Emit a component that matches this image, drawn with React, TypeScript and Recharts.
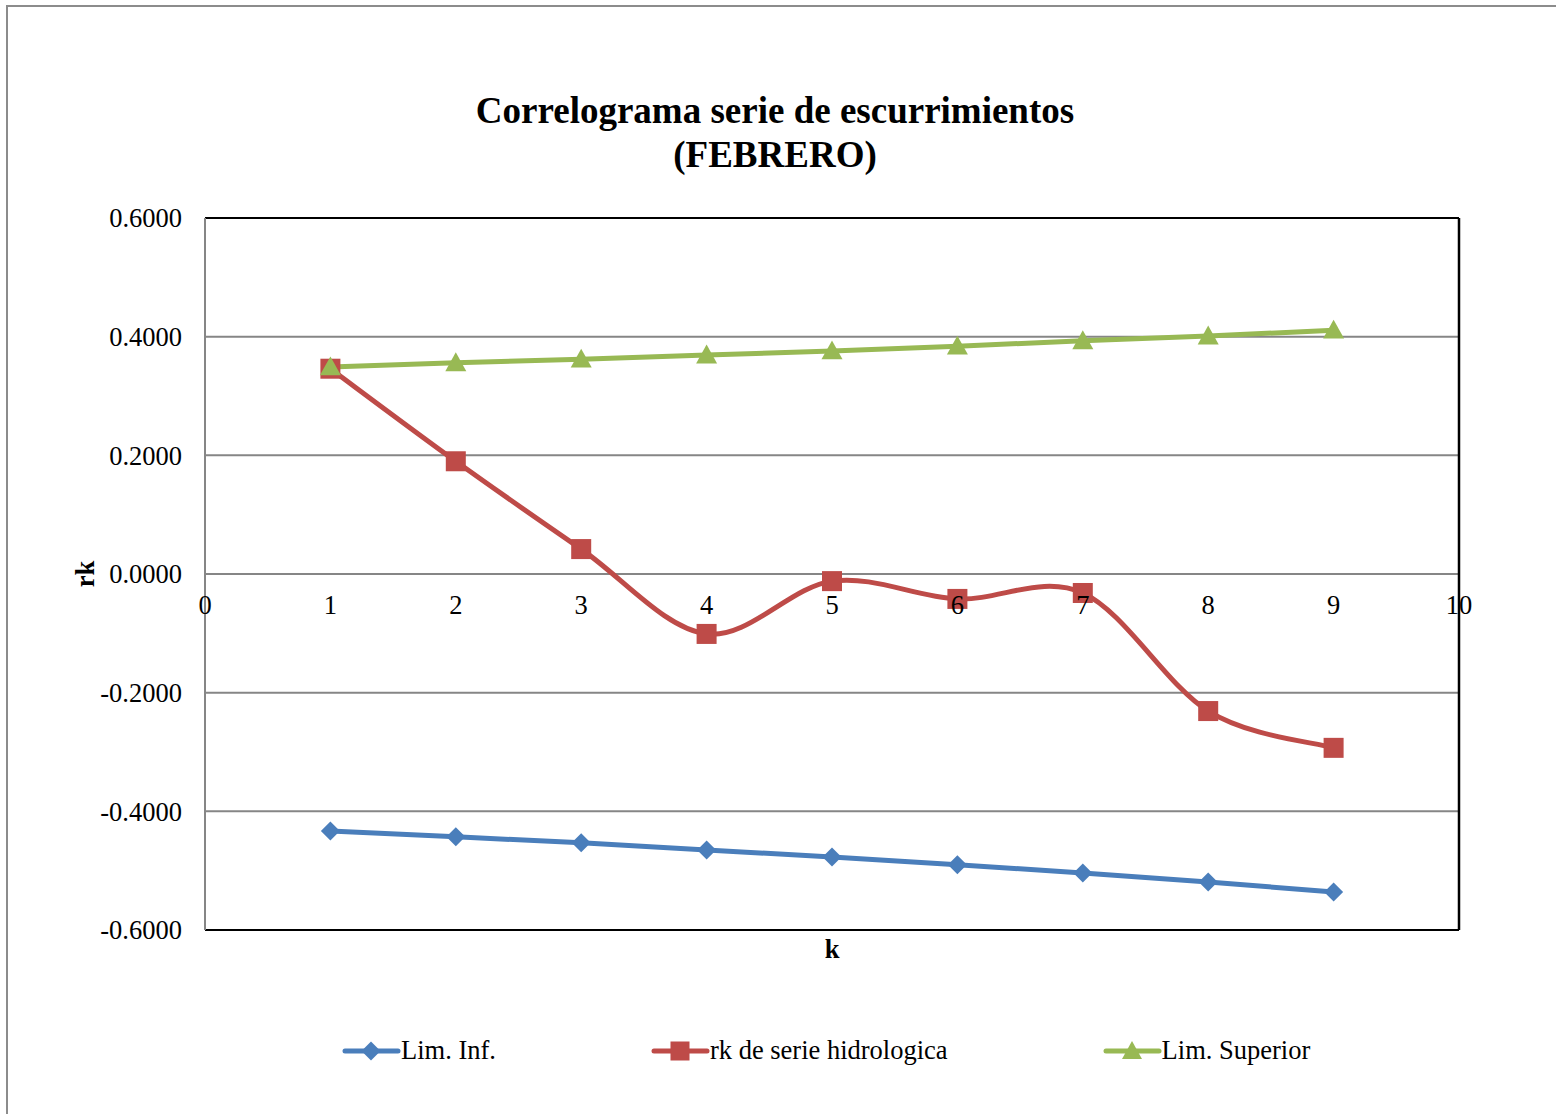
import { LineChart, Line, XAxis, YAxis, CartesianGrid, ReferenceLine } from 'recharts';

const kValues = [1, 2, 3, 4, 5, 6, 7, 8, 9];
const limInf = [-0.433, -0.443, -0.453, -0.465, -0.477, -0.49, -0.504, -0.519, -0.536];
const rkSerie = [0.346, 0.19, 0.042, -0.101, -0.012, -0.042, -0.032, -0.231, -0.293];
const limSup = [0.349, 0.356, 0.362, 0.369, 0.376, 0.384, 0.393, 0.401, 0.411];
const xTicks = [0, 1, 2, 3, 4, 5, 6, 7, 8, 9, 10];
const yTicks = [-0.6, -0.4, -0.2, 0, 0.2, 0.4, 0.6];

const data = kValues.map((k, i) => ({
  k,
  inf: limInf[i],
  rk: rkSerie[i],
  sup: limSup[i],
}));

const BLUE = '#4a7ebb';
const RED = '#be4b48';
const GREEN = '#98b954';
const FONT = '"Liberation Serif", "Times New Roman", serif';
const FS = 26.5;

// Excel-like smoothed line (Catmull-Rom as cubic bezier)
const smoothCurve: any = (context: any) => {
  let pts: number[][] = [];
  return {
    areaStart() {},
    areaEnd() {},
    lineStart() {
      pts = [];
    },
    point(x: number, y: number) {
      pts.push([+x, +y]);
    },
    lineEnd() {
      if (!pts.length) return;
      context.moveTo(pts[0][0], pts[0][1]);
      for (let i = 0; i < pts.length - 1; i++) {
        const p0 = pts[i - 1] || pts[i];
        const p1 = pts[i];
        const p2 = pts[i + 1];
        const p3 = pts[i + 2] || p2;
        context.bezierCurveTo(
          p1[0] + (p2[0] - p0[0]) / 6,
          p1[1] + (p2[1] - p0[1]) / 6,
          p2[0] - (p3[0] - p1[0]) / 6,
          p2[1] - (p3[1] - p1[1]) / 6,
          p2[0],
          p2[1]
        );
      }
    },
  };
};

const Diamond = ({ cx, cy, fill, s = 9.5 }: any) => (
  <path d={`M${cx},${cy - s}L${cx + s},${cy}L${cx},${cy + s}L${cx - s},${cy}Z`} fill={fill} />
);
const Square = ({ cx, cy, fill, s = 10 }: any) => (
  <rect x={cx - s} y={cy - s} width={s * 2} height={s * 2} fill={fill} />
);
const Triangle = ({ cx, cy, fill, s = 10.5 }: any) => (
  <path d={`M${cx},${cy - s}L${cx + s},${cy + s * 0.8}L${cx - s},${cy + s * 0.8}Z`} fill={fill} />
);

const XTick = ({ x, payload }: any) => (
  <text x={x} y={614} textAnchor="middle" fontFamily={FONT} fontSize={FS} fill="#000">
    {payload.value}
  </text>
);

const RkLabel = ({ viewBox }: any) => {
  const cx = viewBox.x - 60;
  const cy = viewBox.y + viewBox.height / 2;
  return (
    <text
      x={cx}
      y={cy}
      transform={`rotate(-90 ${cx} ${cy})`}
      textAnchor="middle"
      dominantBaseline="central"
      fontFamily={FONT}
      fontSize={FS}
      fontWeight="bold"
      fill="#000"
    >
      rk
    </text>
  );
};

const legendItems = [
  { name: 'Lim. Inf.', color: BLUE, marker: 'diamond' },
  { name: 'rk de serie hidrologica', color: RED, marker: 'square' },
  { name: 'Lim. Superior', color: GREEN, marker: 'triangle' },
];

function LegendIcon({ color, marker }: { color: string; marker: string }) {
  return (
    <svg width={59} height={26} style={{ display: 'block' }}>
      <line x1={3} y1={13} x2={56} y2={13} stroke={color} strokeWidth={5} strokeLinecap="round" />
      {marker === 'diamond' && <Diamond cx={29} cy={13} fill={color} />}
      {marker === 'square' && <Square cx={29} cy={13} fill={color} s={9.5} />}
      {marker === 'triangle' && <Triangle cx={29} cy={13} fill={color} s={10} />}
    </svg>
  );
}

export default function App() {
  return (
    <div
      style={{
        position: 'fixed',
        left: 0,
        top: 0,
        width: 1556,
        height: 1114,
        overflow: 'hidden',
        background: '#fff',
        fontFamily: FONT,
      }}
    >
      <div
        style={{
          position: 'absolute',
          left: 6,
          top: 5,
          width: 1700,
          height: 1300,
          border: '2px solid #8c8c8c',
        }}
      />
      <div
        style={{
          position: 'absolute',
          left: 0,
          width: 1550,
          top: 89,
          textAlign: 'center',
          fontSize: 37,
          fontWeight: 'bold',
          lineHeight: '44px',
          color: '#000',
        }}
      >
        Correlograma serie de escurrimientos
        <br />
        (FEBRERO)
      </div>
      <div style={{ position: 'absolute', left: 0, top: 0 }}>
        <LineChart
          width={1556}
          height={1114}
          data={data}
          margin={{ top: 218, right: 97, bottom: 154, left: 145 }}
        >
          <CartesianGrid vertical={false} stroke="#868686" strokeWidth={2} />
          <XAxis
            dataKey="k"
            type="number"
            domain={[0, 10]}
            ticks={xTicks}
            height={30}
            axisLine={{ stroke: '#000', strokeWidth: 2 }}
            tickLine={false}
            tick={<XTick />}
            label={{
              value: 'k',
              position: 'insideTop',
              offset: 9,
              fontFamily: FONT,
              fontSize: FS,
              fontWeight: 'bold',
              fill: '#000',
            }}
          />
          <YAxis
            type="number"
            domain={[-0.6, 0.6]}
            ticks={yTicks}
            width={60}
            axisLine={{ stroke: '#868686', strokeWidth: 2 }}
            tickLine={false}
            tickSize={0}
            tickMargin={23}
            tickFormatter={(v: number) => v.toFixed(4)}
            tick={{ fontFamily: FONT, fontSize: FS, fill: '#000' }}
            label={{ content: <RkLabel /> }}
          />
          <ReferenceLine y={0.6} stroke="#000" strokeWidth={2} />
          <ReferenceLine x={10} stroke="#000" strokeWidth={2.5} />
          <Line
            dataKey="inf"
            stroke={BLUE}
            strokeWidth={5}
            type="linear"
            isAnimationActive={false}
            dot={(p: any) => <Diamond key={`d-${p.index}`} cx={p.cx} cy={p.cy} fill={BLUE} />}
          />
          <Line
            dataKey="rk"
            stroke={RED}
            strokeWidth={5}
            type={smoothCurve}
            isAnimationActive={false}
            dot={(p: any) => <Square key={`s-${p.index}`} cx={p.cx} cy={p.cy} fill={RED} />}
          />
          <Line
            dataKey="sup"
            stroke={GREEN}
            strokeWidth={5}
            type="linear"
            isAnimationActive={false}
            dot={(p: any) => <Triangle key={`t-${p.index}`} cx={p.cx} cy={p.cy} fill={GREEN} />}
          />
        </LineChart>
      </div>
      <div
        style={{
          position: 'absolute',
          left: 342,
          top: 1035,
          display: 'flex',
          alignItems: 'center',
          gap: 155,
          fontSize: FS,
          color: '#000',
          whiteSpace: 'nowrap',
        }}
      >
        {legendItems.map((it) => (
          <div key={it.name} style={{ display: 'flex', alignItems: 'center' }}>
            <LegendIcon color={it.color} marker={it.marker} />
            <span>{it.name}</span>
          </div>
        ))}
      </div>
    </div>
  );
}
